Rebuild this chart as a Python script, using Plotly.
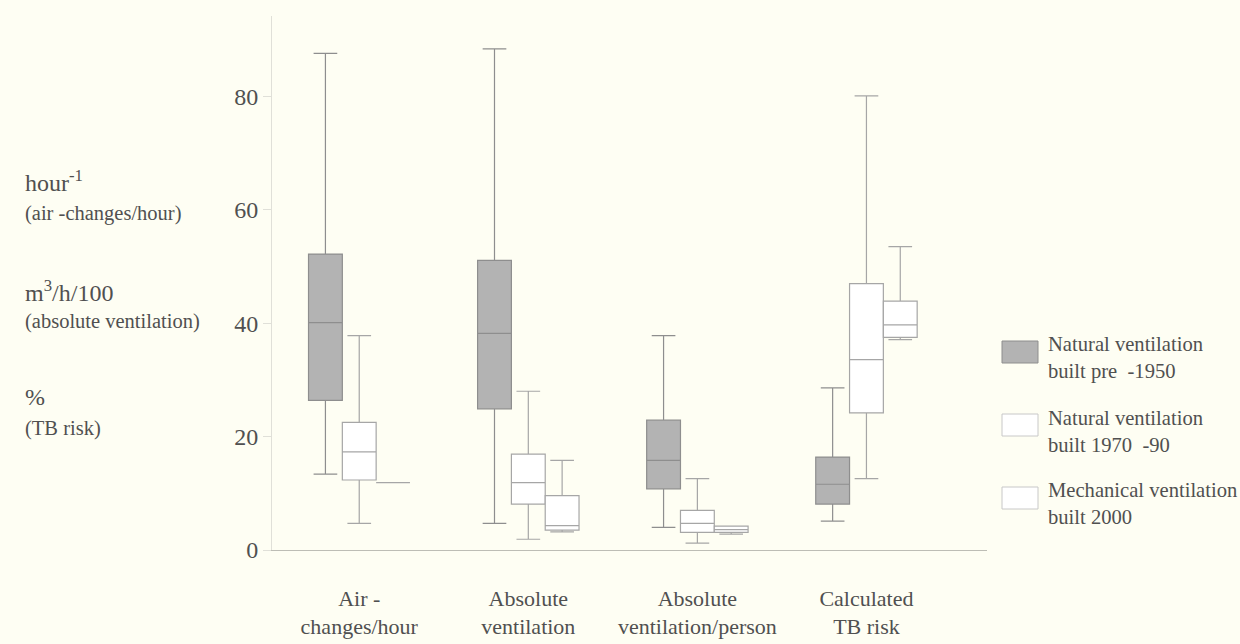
import plotly.graph_objects as go

categories = ["Air-changes/hour", "Absolute ventilation", "Absolute ventilation/person", "Calculated TB risk"]
tick_labels = ["Air -<br>changes/hour", "Absolute<br>ventilation", "Absolute<br>ventilation/person", "Calculated<br>TB risk"]

series_names = ["Natural ventilation built pre -1950", "Natural ventilation built 1970 -90", "Mechanical ventilation built 2000"]

# per series: values for the 4 categories
pre1950_low = [13.4, 4.7, 4.0, 5.1]
pre1950_q1 = [26.4, 24.9, 10.8, 8.1]
pre1950_med = [40.1, 38.2, 15.8, 11.6]
pre1950_q3 = [52.2, 51.1, 22.9, 16.4]
pre1950_high = [87.6, 88.4, 37.8, 28.6]

n7090_low = [4.7, 1.9, 1.2, 12.6]
n7090_q1 = [12.35, 8.1, 3.1, 24.2]
n7090_med = [17.3, 11.9, 4.7, 33.6]
n7090_q3 = [22.5, 16.9, 7.0, 47.0]
n7090_high = [37.8, 28.0, 12.6, 80.1]

mech_low = [11.9, 3.2, 2.8, 37.1]
mech_q1 = [11.9, 3.5, 3.1, 37.5]
mech_med = [11.9, 4.3, 3.6, 39.7]
mech_q3 = [11.9, 9.6, 4.2, 43.9]
mech_high = [11.9, 15.8, 4.2, 53.5]

y_ticks = [0, 20, 40, 60, 80]

BG = "#FEFEF3"
TXT = "#505050"
FONT = "Liberation Serif, DejaVu Serif, serif"

fig = go.Figure()
specs = [
    (series_names[0], pre1950_low, pre1950_q1, pre1950_med, pre1950_q3, pre1950_high, "#B3B3B3", "#8E8E8E"),
    (series_names[1], n7090_low, n7090_q1, n7090_med, n7090_q3, n7090_high, "#FFFFFF", "#A6A6A6"),
    (series_names[2], mech_low, mech_q1, mech_med, mech_q3, mech_high, "#FFFFFF", "#A6A6A6"),
]
for name, lo, q1, med, q3, hi, fill, line in specs:
    fig.add_trace(go.Box(
        name=name, x=categories, lowerfence=lo, q1=q1, median=med, q3=q3, upperfence=hi,
        fillcolor=fill, line=dict(color=line, width=1.2), whiskerwidth=0.7,
        boxpoints=False, showlegend=False, hoverinfo="skip",
    ))

L, R, T, B = 272, 253, 16, 94
W, H = 1240, 644
pw, ph = W - L - R, H - T - B


def px(X):
    return (X - L) / pw


def py(Y):
    return (H - B - Y) / ph


fig.update_layout(
    width=W, height=H,
    margin=dict(l=L, r=R, t=T, b=B, autoexpand=False),
    paper_bgcolor=BG, plot_bgcolor=BG,
    boxmode="group", boxgap=0.4, boxgroupgap=0,
    font=dict(family=FONT, color=TXT, size=20),
    xaxis=dict(
        type="category", categoryorder="array", categoryarray=categories,
        tickvals=categories, ticktext=tick_labels, automargin=False,
        range=[-0.516, 3.713], showgrid=False, zeroline=False,
        showline=True, linecolor="#BDBDB5", linewidth=1.2,
        ticks="", ticklabelstandoff=28, tickfont=dict(family=FONT, size=22, color=TXT),
    ),
    yaxis=dict(
        range=[0, 94.2], tickvals=y_ticks, showgrid=False, zeroline=False, automargin=False,
        showline=True, linecolor="#E0E0D8", linewidth=1,
        ticks="outside", ticklen=8, tickcolor="#E0E0D8",
        ticklabelstandoff=0, tickfont=dict(family=FONT, size=24, color=TXT),
    ),
)

# left axis unit labels
left_labels = [
    ("hour<sup>-1</sup>", 181, 24),
    ("(air -changes/hour)", 213, 20.5),
    ("m<sup>3</sup>/h/100", 291, 24),
    ("(absolute ventilation)", 321, 20.5),
    ("%", 397, 24),
    ("(TB risk)", 428, 20.5),
]
for text, Y, size in left_labels:
    fig.add_annotation(text=text, xref="paper", yref="paper", x=px(23), y=py(Y),
                       xanchor="left", yanchor="middle", showarrow=False,
                       font=dict(size=size, color=TXT, family=FONT))

# legend
legend_items = [
    ("Natural ventilation<br>built pre  -1950", "#B3B3B3", "#8E8E8E", 341, 363, 358),
    ("Natural ventilation<br>built 1970  -90", "#FFFFFF", "#C8C8C8", 414, 436, 431),
    ("Mechanical ventilation<br>built 2000", "#FFFFFF", "#C8C8C8", 487, 509, 503),
]
for text, fill, line, y0, y1, yc in legend_items:
    fig.add_shape(type="rect", xref="paper", yref="paper",
                  x0=px(1002), x1=px(1038), y0=py(y1), y1=py(y0),
                  fillcolor=fill, line=dict(color=line, width=1))
    fig.add_annotation(text=text, xref="paper", yref="paper", x=px(1046), y=py(yc),
                       xanchor="left", yanchor="middle", align="left", showarrow=False,
                       font=dict(size=20.6, color=TXT, family=FONT))

fig.write_html(
    "out.html",
    config={"displayModeBar": False},
    post_script="document.body.style.margin='0';document.body.style.background='#FEFEF3';",
)
